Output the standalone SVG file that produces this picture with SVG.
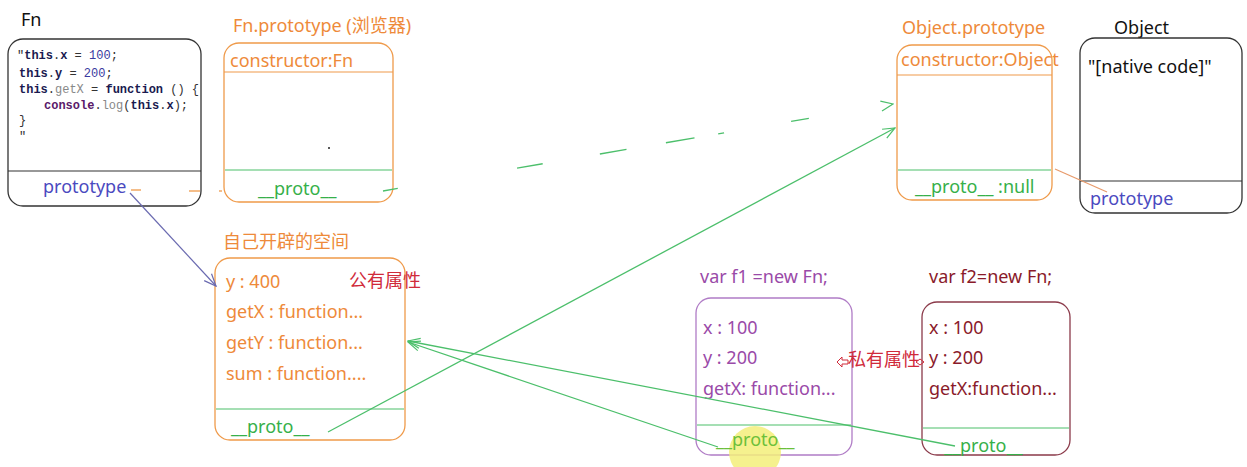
<svg xmlns="http://www.w3.org/2000/svg" width="1247" height="467" viewBox="0 0 1247 467">
<style>
.t{font-family:"Noto Sans","Noto Sans CJK SC",sans-serif;font-size:18px}
.ttl{font-family:"Noto Sans","Noto Sans CJK SC",sans-serif;font-size:18px}
.code{font-family:"Liberation Mono",monospace;font-size:12px;fill:#333}
.kw{font-weight:bold;fill:#1a1a50}
.cs{font-weight:bold;fill:#5a1a6a}
.num{fill:#3a3aa0}
.fn{fill:#888}
.orange{fill:#ee8a3a}
.green{fill:#36b04a}
.blue{fill:#4a4ac0}
.purple{fill:#9a4aa8}
.dred{fill:#8a1a2a}
.red{fill:#d02a3a}
.box-k{fill:#fff;stroke:#333;stroke-width:1.3}
.box-o{fill:#fff;stroke:#ef9a4a;stroke-width:1.3}
.box-p{fill:#fff;stroke:#b07cc6;stroke-width:1.3}
.box-r{fill:#fff;stroke:#8b3a4a;stroke-width:1.3}
.gl{stroke:#4cbf6b;stroke-width:1.3;fill:none}
</style>
<defs>
<marker id="ag" markerWidth="14" markerHeight="12" refX="13" refY="6" orient="auto" markerUnits="userSpaceOnUse">
<path d="M1,1 L13,6 L1,11" fill="none" stroke="#4cbf6b" stroke-width="1.2"/>
</marker>
<marker id="ab" markerWidth="14" markerHeight="12" refX="13" refY="6" orient="auto" markerUnits="userSpaceOnUse">
<path d="M1,1 L13,6 L1,11" fill="none" stroke="#6a6ab0" stroke-width="1.2"/>
</marker>
</defs>
<rect width="1247" height="467" fill="#fff"/>

<g id="fn">
<text class="ttl" x="21" y="26" fill="#111">Fn</text>
<rect class="box-k" x="8" y="39" width="193" height="167" rx="15"/>
<line x1="8" y1="171" x2="201" y2="171" stroke="#333" stroke-width="1.2"/>
<text class="code" x="17" y="59">"<tspan class="kw">this</tspan>.<tspan class="kw">x</tspan> = <tspan class="num">100</tspan>;</text>
<text class="code" x="19" y="77"><tspan class="kw">this</tspan>.<tspan class="kw">y</tspan> = <tspan class="num">200</tspan>;</text>
<text class="code" x="19" y="93"><tspan class="kw">this</tspan>.<tspan class="fn">getX</tspan> = <tspan class="kw">function</tspan> () {</text>
<text class="code" x="44" y="109"><tspan class="cs">console</tspan>.<tspan class="fn">log</tspan>(<tspan class="kw">this</tspan>.<tspan class="kw">x</tspan>);</text>
<text class="code" x="19" y="124">}</text>
<text class="code" x="19" y="140">"</text>
<text class="t blue" x="43" y="193">prototype</text>
</g>

<g id="fn-prototype">
<text class="ttl orange" x="233" y="32">Fn.prototype (浏览器)</text>
<rect class="box-o" x="224" y="43" width="169" height="159" rx="15"/>
<line x1="224" y1="72" x2="393" y2="72" stroke="#ef9a4a" stroke-width="1.2"/>
<line x1="225" y1="170" x2="392" y2="170" stroke="#4cbf6b" stroke-width="1.2"/>
<text class="t orange" x="230" y="67">constructor:Fn</text>
<text class="t green" x="258" y="195">__proto__</text>
<circle cx="329" cy="148" r="1" fill="#222"/>
</g>

<g id="object-prototype">
<text class="ttl orange" x="902" y="34">Object.prototype</text>
<rect class="box-o" x="897" y="45" width="155" height="155" rx="15"/>
<line x1="897" y1="75" x2="1052" y2="75" stroke="#ef9a4a" stroke-width="1.2"/>
<line x1="898" y1="170" x2="1051" y2="170" stroke="#4cbf6b" stroke-width="1.2"/>
<text class="t orange" x="901" y="66">constructor:Object</text>
<text class="t green" x="915" y="193">__proto__ :null</text>
</g>

<g id="object">
<text class="ttl" x="1114" y="34" fill="#111">Object</text>
<rect class="box-k" x="1080" y="38" width="162" height="175" rx="15"/>
<line x1="1080" y1="181" x2="1242" y2="181" stroke="#333" stroke-width="1.2"/>
<text class="t" x="1088" y="73" fill="#111">"[native code]"</text>
<text class="t blue" x="1090" y="205">prototype</text>
</g>

<g id="own-space">
<text class="ttl orange" x="223" y="248">自己开辟的空间</text>
<rect class="box-o" x="215" y="258" width="190" height="182" rx="15"/>
<line x1="216" y1="409" x2="404" y2="409" stroke="#4cbf6b" stroke-width="1.2"/>
<text class="t orange" x="226" y="288">y : 400</text>
<text class="t red" x="349" y="287">公有属性</text>
<text class="t orange" x="226" y="318">getX : function...</text>
<text class="t orange" x="226" y="349">getY : function...</text>
<text class="t orange" x="226" y="380">sum : function....</text>
<text class="t green" x="231" y="433">__proto__</text>
</g>

<g id="f1">
<text class="t purple" x="700" y="283">var f1 =new Fn;</text>
<rect class="box-p" x="696" y="298" width="156" height="157" rx="15"/>
<line x1="697" y1="425" x2="851" y2="425" stroke="#4cbf6b" stroke-width="1.2"/>
<text class="t purple" x="703" y="334">x : 100</text>
<text class="t purple" x="703" y="364">y : 200</text>
<text class="t purple" x="703" y="395">getX: function...</text>
<circle cx="755" cy="452" r="26" fill="#f3ef7a" opacity="0.85"/>
<text class="t" x="716" y="446" fill="#6cc03a">__proto__</text>
</g>

<g id="f2">
<text class="t dred" x="929" y="283">var f2=new Fn;</text>
<rect class="box-r" x="922" y="302" width="148" height="153" rx="15"/>
<line x1="923" y1="428" x2="1069" y2="428" stroke="#4cbf6b" stroke-width="1.2"/>
<text class="t dred" x="929" y="334">x : 100</text>
<text class="t dred" x="929" y="364">y : 200</text>
<text class="t dred" x="929" y="395">getX:function...</text>
<text class="t green" x="944" y="452">__proto__</text>
</g>

<g id="private-label">
<path d="M837,362 L842,357 L842,360 L848,360 L848,364 L842,364 L842,367 Z" fill="none" stroke="#d02a3a" stroke-width="1"/>
<text class="t red" x="848" y="366">私有属性</text>
<path d="M920,359 L924,362 L920,365 L916,362 Z" fill="none" stroke="#d02a3a" stroke-width="1"/>
</g>

<g id="connectors">
<line x1="131" y1="190" x2="141" y2="190" stroke="#ef9a4a" stroke-width="1.3"/>
<line x1="189" y1="191" x2="200" y2="191" stroke="#ef9a4a" stroke-width="1.3"/>
<line x1="219" y1="191" x2="222" y2="191" stroke="#ef9a4a" stroke-width="1.3"/>
<line x1="130" y1="193" x2="216" y2="286" stroke="#6a6ab0" stroke-width="1.2" marker-end="url(#ab)"/>
<line x1="383" y1="191" x2="893" y2="104" class="gl" stroke-dasharray="15 121 26 58 27 40 29 24 6 68 18 200" marker-end="url(#ag)"/>
<line x1="328" y1="432" x2="895" y2="128" class="gl" marker-end="url(#ag)"/>
<line x1="718" y1="447" x2="408" y2="342" class="gl" marker-end="url(#ag)"/>
<line x1="955" y1="446" x2="408" y2="341" class="gl" marker-end="url(#ag)"/>
<line x1="1055" y1="169" x2="1107" y2="192" stroke="#e89a6a" stroke-width="1.2"/>
</g>
</svg>
